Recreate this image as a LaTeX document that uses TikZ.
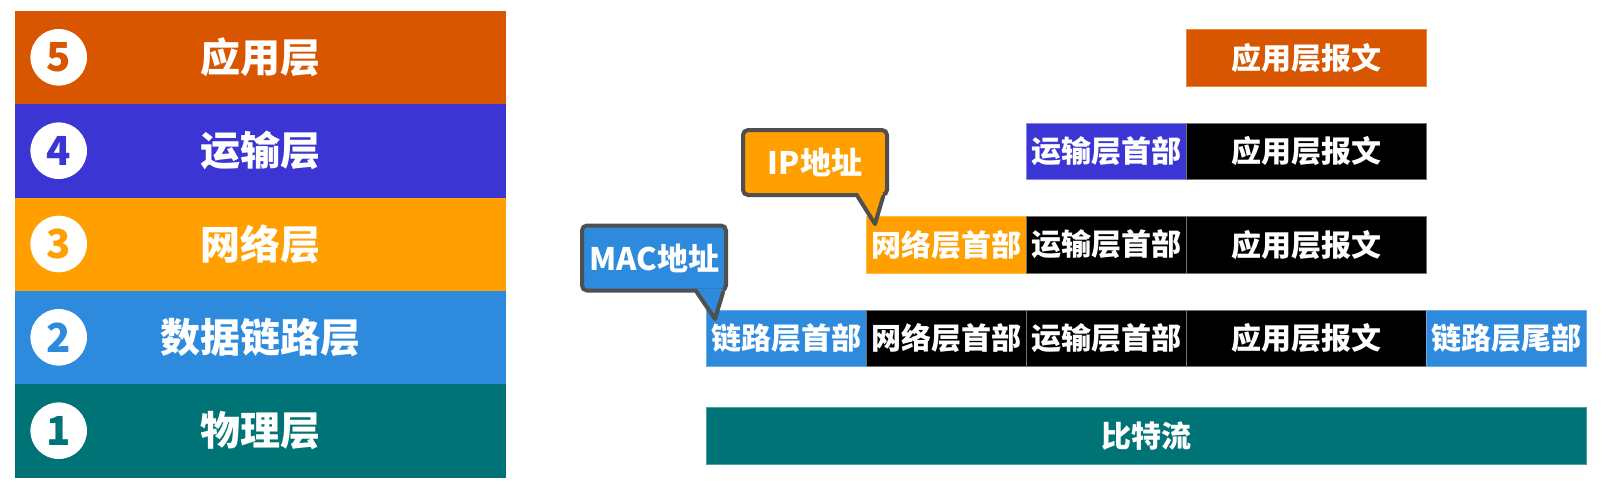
\documentclass[tikz,border=0pt]{standalone}
\usepackage{fontspec}
\setmainfont{Noto Sans CJK SC}
\usetikzlibrary{calc}
\definecolor{appc}{HTML}{D95600}
\definecolor{transc}{HTML}{3B35D4}
\definecolor{netc}{HTML}{FF9F00}
\definecolor{linkc}{HTML}{2E8ADC}
\definecolor{physc}{HTML}{007376}
\definecolor{calloutline}{HTML}{4F4F4F}
\begin{document}
\begin{tikzpicture}[x=1pt,y=-1pt,
  layer/.style={rectangle, anchor=north west, minimum width=491pt, minimum height=93.33pt,
    inner sep=0pt, text=white, font=\fontsize{40}{48}\selectfont\bfseries},
  num/.style={circle, fill=white, minimum size=56.6pt, inner sep=0pt,
    font=\fontsize{40}{46}\selectfont\bfseries},
  cell/.style={rectangle, anchor=north west, minimum height=56.5pt, inner sep=0pt,
    text=white, line width=0.8pt, font=\fontsize{30}{34}\selectfont\bfseries},
  hdr/.style={cell, minimum width=160pt},
  msg/.style={cell, minimum width=240pt},
  blk/.style={fill=black, draw=black!55!white},
  callout/.style={rectangle, rounded corners=5pt, draw=calloutline, line width=4pt,
    minimum width=144pt, minimum height=65pt, inner sep=0pt, text=white,
    font=\fontsize{31}{36}\selectfont\bfseries},
  tail/.style={draw=calloutline, line width=4pt, line join=round, line cap=round}
]
\useasboundingbox (0,0) rectangle (1609,483);
\fill[white] (0,0) rectangle (1609,483);

% left layer stack
\node[layer, fill=appc]   (L5) at (14.3,10.7)  {应用层};
\node[layer, fill=transc] (L4) at (14.3,104.0) {运输层};
\node[layer, fill=netc]   (L3) at (14.3,197.3) {网络层};
\node[layer, fill=linkc]  (L2) at (14.3,290.7) {数据链路层};
\node[layer, fill=physc]  (L1) at (14.3,384.0) {物理层};
\node[num, text=appc]   (n5) at (58.7,57.3)  {5};
\node[num, text=transc] (n4) at (58.7,150.7) {4};
\node[num, text=netc]   (n3) at (58.7,244.0) {3};
\node[num, text=linkc]  (n2) at (58.7,337.3) {2};
\node[num, text=physc]  (n1) at (58.7,430.7) {1};

% row 1
\node[msg, fill=appc, draw=appc!70!white] (m1) at (1186,29) {应用层报文};
% row 2
\node[hdr, fill=transc, draw=transc!60!white] (t2) at (1026,122.5) {运输层首部};
\node[msg, blk] (m2) at (1186,122.5) {应用层报文};
% row 3
\node[hdr, fill=netc, draw=netc!70!white] (n3h) at (866,216) {网络层首部};
\node[hdr, blk] (t3) at (1026,216) {运输层首部};
\node[msg, blk] (m3) at (1186,216) {应用层报文};
% row 4
\node[hdr, fill=linkc, draw=linkc!70!white] (l4) at (706,309.5) {链路层首部};
\node[hdr, blk] (n4h) at (866,309.5) {网络层首部};
\node[hdr, blk] (t4) at (1026,309.5) {运输层首部};
\node[msg, blk] (m4) at (1186,309.5) {应用层报文};
\node[hdr, fill=linkc, draw=linkc!70!white] (lt4) at (1426,309.5) {链路层尾部};
% bit stream
\node[cell, minimum width=880pt, fill=physc, draw=physc!70!white] (bits) at (706,407) {比特流};

% callouts
\node[callout, fill=netc]  (ip)  at (815,162.5) {IP地址};
\node[callout, fill=linkc] (mac) at (654,258)   {MAC地址};
\coordinate (iptip)  at ($(n3h.north west)+(9,8)$);
\coordinate (mactip) at ($(l4.north west)+(9,9.5)$);
\fill[netc] ($(ip.south)+(43,-4)$) -- (iptip) -- ($(ip.south)+(68,-4)$) -- cycle;
\draw[tail] ($(ip.south)+(43,0)$) -- (iptip) -- ($(ip.south)+(68,0)$);
\fill[linkc] ($(mac.south)+(43,-4)$) -- (mactip) -- ($(mac.south)+(69,-4)$) -- cycle;
\draw[tail] ($(mac.south)+(43,0)$) -- (mactip) -- ($(mac.south)+(69,0)$);
\end{tikzpicture}
\end{document}
